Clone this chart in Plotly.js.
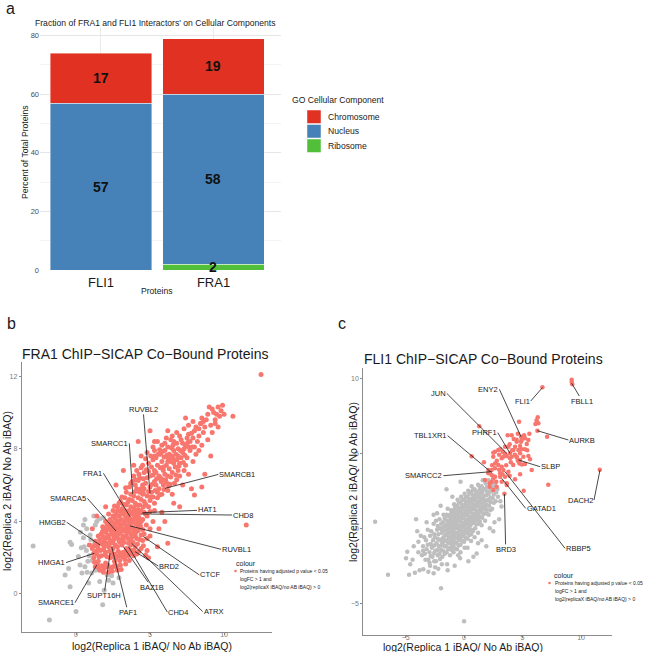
<!DOCTYPE html>
<html>
<head>
<meta charset="utf-8">
<script src="https://cdn.plot.ly/plotly-3.0.1.min.js"></script>
<style>body{margin:0;background:#fff}</style>
</head>
<body>
<div id="plotArea" style="width:650px;height:652px"></div>
<script>
// ---- panel a : GO cellular component fractions
var proteins = ["FLI1", "FRA1"];
var components = ["Chromosome", "Nucleus", "Ribosome"];
var ribosome = [0, 2];
var nucleus = [57, 58];
var chromosome = [17, 19];

// ---- panel b : FRA1 ChIP-SICAP (log2 rep1, log2 rep2)
var fraSig = [
 [1.3,1.5],[1.6,1.3],[1.9,1.4],[2.2,1.2],[2.5,1.5],[2.8,1.3],[1.5,1.8],[2.0,1.7],[2.6,1.8],[3.0,1.6],[3.3,1.9],[1.2,2.0],
 [1.4,2.2],[1.7,2.1],[2.0,2.3],[2.3,2.0],[2.6,2.2],[2.9,2.1],[3.2,2.3],[3.5,2.1],[3.8,2.4],[4.1,2.2],[1.1,2.5],[1.5,2.5],
 [1.9,2.6],[2.2,2.6],[2.5,2.5],[2.8,2.6],[3.1,2.7],[3.4,2.5],[3.7,2.7],[4.0,2.6],[4.4,2.5],[4.8,2.4],
 [1.3,2.9],[1.6,3.0],[1.9,2.9],[2.2,3.1],[2.5,2.9],[2.8,3.1],[3.1,3.0],[3.4,3.2],[3.7,3.0],[4.0,3.2],[4.3,3.0],[4.6,3.3],
 [1.7,3.3],[2.0,3.4],[2.4,3.3],[2.7,3.5],[3.0,3.4],[3.3,3.6],[3.6,3.4],[3.9,3.6],[4.2,3.5],[5.0,3.2],
 [1.8,3.7],[2.1,3.8],[2.4,3.7],[2.7,3.9],[3.0,3.8],[3.3,4.0],[3.6,3.9],[3.9,4.1],[4.2,3.9],[4.5,4.1],[2.3,4.1],[2.6,4.2],
 [2.9,4.3],[3.2,4.4],[3.5,4.3],[3.8,4.5],[4.1,4.4],[4.4,4.6],[4.8,4.3],[5.2,4.0],
 [2.5,4.6],[2.8,4.8],[3.1,4.7],[3.4,4.9],[3.7,4.8],[4.0,5.0],[4.3,4.9],[4.6,5.1],[4.9,4.8],[5.3,5.0],[3.0,5.1],[3.3,5.3],
 [3.6,5.2],[3.9,5.4],[4.2,5.3],[4.5,5.5],[4.8,5.4],[5.1,5.6],[5.5,5.3],
 [1.45,1.65],[1.75,1.55],[2.05,1.5],[2.35,1.45],[2.65,1.6],[2.95,1.85],[1.35,2.35],[1.65,2.4],[1.95,2.15],[2.25,2.35],
 [2.55,2.05],[2.85,2.35],[3.15,2.05],[3.45,2.35],[3.65,2.2],[3.95,2.35],[1.45,2.7],[1.75,2.75],[2.05,2.8],[2.35,2.8],
 [2.65,2.7],[2.95,2.85],[3.25,2.85],[3.55,2.8],[3.85,2.85],[4.15,2.75],[1.85,3.15],[2.15,3.25],[2.55,3.15],[2.85,3.3],
 [3.15,3.2],[3.45,3.4],[3.75,3.25],[4.05,3.4],[4.4,3.25],[1.95,3.55],[2.25,3.55],[2.55,3.55],[2.85,3.65],[3.15,3.6],
 [3.45,3.75],[3.75,3.7],[4.05,3.85],[4.35,3.75],[2.45,3.95],[2.75,4.05],[3.05,4.1],[3.35,4.2],[3.65,4.15],[3.95,4.3],
 [4.25,4.2],[2.7,4.4],[3.0,4.55],[3.3,4.6],[3.6,4.6],[3.9,4.75],[4.2,4.65],[4.55,4.8],
 [1.25,1.75],[1.55,1.45],[1.85,1.2],[2.15,1.6],[2.45,1.25],[2.75,1.5],[3.05,1.35],[3.35,1.65],[3.6,1.85],[1.2,2.25],
 [1.55,2.05],[1.85,2.45],[2.1,2.05],[2.4,2.25],[2.7,2.0],[3.0,2.25],[3.3,2.15],[3.6,2.45],[3.9,2.1],[4.25,2.35],
 [4.55,2.65],[4.7,2.15],[1.25,2.65],[1.6,2.8],[1.95,3.05],[2.3,2.95],[2.6,3.05],[2.9,2.95],[3.2,3.1],[3.5,3.05],
 [3.8,3.15],[4.1,3.05],[4.5,2.95],[4.8,3.05],[1.5,3.2],[1.8,3.45],[2.1,3.6],[2.4,3.45],[2.7,3.3],[3.0,3.6],
 [3.3,3.45],[3.6,3.6],[3.9,3.45],[4.2,3.7],[4.5,3.55],[4.75,3.8],[5.0,3.6],[2.0,4.0],[2.3,3.85],[2.6,3.75],
 [2.9,3.95],[3.2,3.85],[3.5,4.1],[3.8,3.95],[4.1,4.1],[4.4,4.0],[4.7,4.4],[5.0,4.55],[2.2,4.4],[2.5,4.3],
 [2.8,4.6],[3.1,4.4],[3.4,4.5],[3.7,4.4],[4.0,4.6],[4.3,4.45],[4.6,4.5],[2.6,4.85],[2.9,5.0],[3.2,4.95],
 [3.5,5.05],[3.8,5.15],[4.1,4.9],[4.4,5.2],[4.7,4.95],[5.0,5.15],[5.3,4.6],[3.1,5.35],[3.4,5.6],[3.7,5.5],
 [4.0,5.65],[4.3,5.6],[4.6,5.8],[4.9,5.65],[5.2,5.35],[5.5,5.6],[5.8,5.5],
 [3.6,5.9],[4.0,6.0],[4.4,5.8],[4.7,6.1],[5.0,5.9],[5.3,6.2],[5.6,5.8],[5.9,6.0],[6.2,5.7],[6.5,5.5],
 [3.9,6.5],[4.3,6.4],[4.6,6.7],[5.0,6.5],[5.3,6.8],[5.6,6.5],[5.9,6.8],[6.2,6.5],[6.5,6.7],[6.8,6.3],[7.2,6.0],
 [4.5,7.1],[4.9,7.2],[5.2,7.4],[5.5,7.1],[5.8,7.3],[6.1,7.1],[6.4,7.3],[6.7,7.0],[7.0,7.2],[7.3,6.8],[7.6,6.6],
 [4.8,7.8],[5.3,7.9],[5.7,7.7],[6.0,7.9],[6.3,7.7],[6.6,7.9],[6.9,7.6],[7.2,7.8],[7.5,7.5],[7.9,7.3],
 [5.5,8.4],[6.0,8.3],[6.4,8.5],[6.8,8.3],[7.1,8.5],[7.4,8.2],[7.7,8.4],[8.0,8.1],[8.3,7.9],
 [6.2,9.0],[6.8,8.9],[7.3,9.1],[7.6,8.8],[8.0,9.0],[8.3,8.7],[8.6,8.9],[8.9,8.5],
 [7.9,9.5],[8.4,9.4],[8.8,9.6],[9.1,9.3],[9.4,9.6],[9.6,9.2],[9.3,10.0],[9.6,10.3],[9.8,10.1],[9.0,10.3],[9.7,9.8],[10.0,9.9],
 [3.8,6.2],[4.2,6.25],[4.5,6.0],[4.8,6.4],[5.15,6.05],[5.45,6.35],[5.75,6.2],[6.05,6.3],[6.35,6.05],[6.65,6.1],
 [7.0,6.5],[4.1,6.8],[4.4,6.95],[4.75,6.85],[5.1,7.0],[5.4,6.7],[5.7,6.95],[6.0,6.6],[6.3,6.9],[6.6,7.2],
 [6.9,6.8],[7.4,7.1],[4.7,7.45],[5.05,7.6],[5.4,7.5],[5.65,7.95],[5.95,7.55],[6.25,7.45],[6.5,7.6],[6.8,7.4],
 [7.1,7.5],[7.7,7.9],[8.1,7.7],[5.2,8.1],[5.8,8.2],[6.2,8.1],[6.55,8.2],[6.9,8.0],[7.3,8.0],[7.6,8.1],
 [7.9,8.6],[8.2,8.4],[8.5,8.2],[6.5,8.7],[7.0,8.7],[7.5,8.6],[8.1,9.2],[8.7,9.2],[9.2,8.9],[8.5,9.7],
 [8.9,9.9],[9.2,10.2],[9.5,9.9],[9.9,10.4],[9.4,9.4],
 [5.4,6.0],[5.7,6.4],[6.1,6.15],[6.4,6.45],[6.75,6.55],[5.2,6.55],[4.9,6.75],[4.55,6.35],[4.25,6.6],[4.0,6.3],
 [5.9,7.0],[6.2,7.3],[6.55,7.45],[6.95,7.05],[7.25,7.25],[5.55,7.7],[5.85,7.85],[6.15,7.65],[6.45,8.05],[6.75,7.7],
 [7.05,7.9],[7.35,7.65],[7.55,8.35],[7.85,8.1],[6.1,8.6],[6.6,8.4],[7.2,8.3],[7.8,8.85],[8.3,9.1],[8.6,9.5],
 [5.05,5.35],[5.35,5.7],[5.65,5.45],[5.95,5.75],[6.25,5.95],[5.85,6.3],[3.35,5.85],[3.7,6.1],[4.1,5.8],[4.55,5.55],
 [12.5,12.1],[10.6,9.8],[7.4,9.7],[5.3,8.4],[11.5,3.8],[3.2,6.8],[6.6,5.0],[7.8,5.8],[8.7,6.6],[9.1,7.6],[3.9,7.1],[2.7,6.0],
 [4.4,7.6],[5.8,4.5],[6.0,4.0],[7.0,4.8],[1.1,3.6],[0.9,2.7],[1.4,4.3],[2.0,4.8],[5.6,3.6],[6.2,2.8],[4.9,2.0],[5.5,2.6],
 [8.5,5.9],[8.0,5.45],[7.6,9.3],[8.45,9.4],[5.3,7.6],[4.2,8.4],[5.0,9.0]
];
var fraNs = [
 [-2.9,2.64],[-0.4,2.85],[-0.3,2.72],[0.5,3.1],[0.72,3.6],[1.4,4.0],[1.6,4.15],[1.85,4.2],[0.16,2.06],[0.27,1.6],
 [0.6,1.5],[-0.74,1.05],[-0.4,0.4],[1.06,1.15],[1.3,1.3],[1.6,0.68],[1.8,-0.6],[0.0,-0.97],[-1.8,-1.43],[2.5,0.6],
 [2.4,1.0],[0.7,2.4],[0.9,2.1],[0.95,3.25],[1.15,2.7],[0.6,4.1],[1.2,4.3],[0.4,1.15],[0.85,0.6],[2.1,1.05],
 [0.8,1.8],[1.0,3.0],[0.3,3.4],[0.55,2.6],[0.75,1.2],[2.2,0.75],[-0.5,1.4],[1.3,3.8],[0.5,3.8],[1.9,0.2],
 [2.9,0.9],[1.1,1.85],[0.35,2.55]
];

// ---- panel c : FLI1 ChIP-SICAP
var fliSig = [
 [9.2,9.9],[9.2,9.75],[9.25,9.6],[6.7,9.4],[6.3,7.4],[6.2,7.2],[6.35,7.0],[6.1,6.95],[6.27,6.5],[7.1,6.1],[11.6,3.9],
 [7.2,2.9],[5.1,2.5],[3.45,2.3],[1.3,6.8],[0.65,4.8],[1.7,4.4],[4.7,7.1],
 [4.93,5.89],[5.21,6.0],[5.5,5.89],[5.36,5.62],[4.79,5.49],[4.5,5.78],[4.36,5.44],[4.22,5.22],[4.64,5.22],[4.93,5.27],
 [3.79,5.44],[3.93,5.0],[3.65,4.82],[4.07,4.78],[4.5,4.73],[4.79,4.56],[5.07,4.78],[5.21,4.29],[5.64,4.6],[5.78,3.89],
 [2.65,5.11],[2.93,5.22],[2.5,4.78],[3.22,4.67],[2.93,4.22],[2.65,4.0],[3.36,3.89],[3.08,3.67],[3.5,3.44],[2.65,3.44],
 [2.36,3.89],[2.08,3.67],[3.22,3.11],[3.65,2.89],[2.79,2.78],[1.79,3.22],
 [3.73,6.2],[4.07,6.2],[4.5,5.9],[5.13,6.2],[5.58,6.3],[4.87,5.78],[5.2,5.27],[5.5,4.82],[4.73,4.33],[4.79,3.6],
 [4.36,3.27],[3.65,3.0],[3.08,3.44],[2.5,3.33],[2.2,3.0],[2.08,3.89],[2.65,4.33],[3.36,4.78],[3.08,5.27],[2.5,5.04],
 [3.5,5.44],[3.93,4.67],[4.2,4.22],[4.5,4.78],[4.79,5.0],[3.79,3.78],[3.22,4.11],[2.2,2.78],[2.5,2.56],[2.36,3.1],
 [4.87,6.11],
 [3.0,4.9],[3.5,4.95],[3.9,5.6],[4.25,5.95],[4.6,6.3],[4.0,4.4],[4.35,4.9],[4.6,4.5],[3.3,5.1],[2.8,4.5],
 [2.4,4.2],[3.0,3.9],[3.6,4.2],[3.9,3.5],[2.75,3.1],[3.3,3.6],[4.95,4.25],[5.4,5.2],[4.1,5.2],[2.35,3.55]
];
var fliNs = [
 [-7.6,0.44],[-6.5,-3.1],[-4.1,0.6],[-4.0,-0.2],[-3.1,-0.1],[-4.85,-1.56],[-4.96,-2.0],[-4.6,-2.4],[-4.7,-3.1],[-4.2,-2.96],
 [-3.8,-2.8],[-3.48,-2.73],[-3.05,-2.9],[-2.9,-2.5],[-2.47,-2.6],[-2.2,-2.7],[-1.9,-2.4],[-1.45,-2.4],[-1.4,-2.8],[-1.97,-4.0],
 [0.0,-6.2],[-3.9,-0.9],[-3.5,-1.2],[-3.6,-1.8],[-3.3,-2.1],[-3.9,-1.6],[-0.34,-2.0],[0.37,-2.2],[0.8,-1.9],[1.08,-1.67],
 [1.5,-0.8],[1.94,1.0],[2.6,0.4],[3.2,1.45],[3.0,0.6],[2.9,2.1],[3.1,1.8],[-0.3,3.1],[-1.5,2.6],[-1.0,2.1],
 [-2.3,1.0],[-3.2,0.4],[2.5,-0.2],[-2.0,1.5],[-3.7,-0.5],[-3.4,-0.6],[-4.3,-1.2],[-4.4,-2.1],[-2.6,-3.0],[1.9,-1.2],
 [2.2,0.0],[-0.8,-2.5],[-2.6,0.9],
 [-3.05,-2.1],[-2.95,-1.6],[-3.1,-1.1],[-2.9,-0.5],[-3.2,-1.4],
 [-2.7,-1.9],[-2.75,-1.3],[-2.65,-0.8],[-2.8,-0.2],[-2.6,0.3],[-2.55,-2.2],
 [-2.4,-2.2],[-2.45,-1.5],[-2.35,-1.0],[-2.5,-0.6],[-2.3,-0.1],[-2.4,0.5],[-2.25,-1.8],
 [-2.1,-1.7],[-2.15,-1.2],[-2.05,-0.8],[-2.2,-0.4],[-2.0,0.0],[-2.1,0.6],[-2.05,-2.05],[-1.95,-1.45],
 [-1.8,-1.5],[-1.85,-1.0],[-1.75,-0.6],[-1.9,-0.3],[-1.7,0.1],[-1.8,0.4],[-1.75,0.9],[-1.85,-1.9],[-1.65,-1.2],[-1.6,-0.45],
 [-1.5,-1.6],[-1.55,-1.2],[-1.45,-0.8],[-1.5,-0.4],[-1.4,-0.1],[-1.55,0.2],[-1.45,0.5],[-1.5,0.9],[-1.4,1.3],[-1.35,-1.4],
 [-1.3,-0.6],[-1.35,0.05],
 [-1.2,-1.3],[-1.25,-0.9],[-1.15,-0.6],[-1.2,-0.3],[-1.1,0.0],[-1.25,0.3],[-1.15,0.6],[-1.2,0.9],[-1.1,1.2],[-1.2,-1.8],
 [-1.05,-1.05],[-1.0,-0.45],[-1.05,0.45],
 [-0.9,-1.2],[-0.95,-0.8],[-0.85,-0.5],[-0.9,-0.2],[-0.8,0.1],[-0.95,0.4],[-0.85,0.7],[-0.9,1.0],[-0.8,1.3],[-0.85,1.6],
 [-0.75,-0.95],[-0.7,-0.35],[-0.7,0.25],[-0.72,0.85],
 [-0.6,-1.4],[-0.65,-1.0],[-0.55,-0.6],[-0.6,-0.3],[-0.5,0.0],[-0.65,0.3],[-0.55,0.6],[-0.6,0.9],[-0.5,1.2],[-0.6,1.5],
 [-0.55,1.9],[-0.45,-0.8],[-0.4,-0.15],[-0.42,0.45],[-0.4,1.05],
 [-0.3,-1.1],[-0.35,-0.7],[-0.25,-0.4],[-0.3,-0.1],[-0.2,0.2],[-0.35,0.5],[-0.25,0.8],[-0.3,1.1],[-0.2,1.4],[-0.3,1.7],
 [-0.25,2.1],[-0.3,-1.6],[-0.15,-0.55],[-0.12,0.05],[-0.1,0.65],[-0.12,1.25],
 [0.0,-0.9],[-0.05,-0.5],[0.05,-0.2],[0.0,0.1],[0.1,0.4],[-0.05,0.7],[0.05,1.0],[0.0,1.3],[0.1,1.6],[0.0,1.9],
 [0.05,2.3],[0.15,-0.65],[0.18,-0.05],[0.2,0.55],[0.2,1.15],[0.18,1.75],
 [0.3,-0.7],[0.25,-0.3],[0.35,0.0],[0.3,0.3],[0.4,0.6],[0.25,0.9],[0.35,1.2],[0.3,1.5],[0.4,1.8],[0.3,2.1],
 [0.35,2.5],[0.3,-1.3],[0.45,-0.15],[0.48,0.45],[0.5,1.05],[0.48,1.65],
 [0.6,-0.4],[0.65,-0.1],[0.55,0.2],[0.6,0.5],[0.7,0.8],[0.55,1.1],[0.65,1.4],[0.6,1.7],[0.7,2.0],[0.6,2.4],
 [0.65,2.8],[0.75,0.35],[0.78,0.95],[0.8,1.55],[0.78,2.2],
 [0.9,-0.6],[0.95,0.0],[0.85,0.4],[0.9,0.7],[1.0,1.0],[0.85,1.3],[0.95,1.6],[0.9,1.9],[1.0,2.2],[0.9,2.6],
 [1.05,0.55],[1.08,1.15],[1.1,1.75],[1.05,2.4],
 [1.2,-0.3],[1.25,0.3],[1.15,0.6],[1.2,0.9],[1.3,1.2],[1.15,1.5],[1.25,1.8],[1.2,2.1],[1.3,2.5],[1.2,2.9],
 [1.2,-1.0],[1.35,0.75],[1.38,1.35],[1.4,1.95],
 [1.5,0.2],[1.55,0.7],[1.45,1.1],[1.5,1.4],[1.6,1.7],[1.45,2.0],[1.55,2.4],[1.5,2.8],[1.6,3.2],[1.65,1.25],[1.68,2.15],
 [1.8,0.5],[1.85,1.0],[1.75,1.4],[1.8,1.8],[1.9,2.2],[1.75,2.6],[1.85,3.0],[1.95,1.55],[1.98,2.45],
 [2.1,0.9],[2.15,1.5],[2.05,1.9],[2.1,2.3],[2.2,2.7],[2.1,3.2],[2.25,2.05],
 [2.4,1.3],[2.45,2.0],[2.35,2.5],[2.4,3.0],[2.5,3.5],[2.55,1.7],
 [2.7,1.8],[2.75,2.4],[2.65,2.9],[2.85,2.6],
 [-2.85,-1.85],[-2.85,-1.05],[-2.55,-1.65],[-2.55,-1.15],[-2.55,-0.4],[-2.25,-1.45],[-2.25,-0.7],[-2.25,0.15],[-1.95,-1.15],[-1.95,-0.75],
 [-1.95,-0.05],[-1.95,0.3],[-1.65,-1.7],[-1.65,-0.85],[-1.65,-0.15],[-1.65,0.65],[-1.35,-1.0],[-1.35,-0.3],[-1.35,0.35],[-1.35,0.8],
 [-1.05,-1.45],[-1.05,-0.75],[-1.05,-0.15],[-1.05,0.2],[-1.05,0.8],[-1.05,1.05],[-0.75,-1.35],[-0.75,-0.65],[-0.75,0.0],[-0.75,0.55],
 [-0.75,1.15],[-0.75,1.45],[-0.45,-1.15],[-0.45,-0.45],[-0.45,0.15],[-0.45,0.75],[-0.45,1.35],[-0.45,1.7],[-0.15,-0.85],[-0.15,-0.25],
 [-0.15,0.35],[-0.15,0.95],[-0.15,1.55],[-0.15,1.9],[0.15,-0.35],[0.15,0.25],[0.15,0.85],[0.15,1.45],[0.15,2.05],[0.45,-0.45],
 [0.45,0.15],[0.45,0.75],[0.45,1.35],[0.45,1.95],[0.45,2.3],[0.75,-0.2],[0.75,0.6],[0.75,1.25],[0.75,1.85],[0.75,2.55],
 [1.05,0.25],[1.05,0.85],[1.05,1.45],[1.05,2.05],[1.35,0.45],[1.35,1.05],[1.35,1.65],[1.35,2.25],[1.35,2.7],[1.65,0.95],
 [1.65,1.55],[1.65,1.95],[1.65,2.6],[1.95,1.25],[1.95,1.85],[1.95,2.75],[2.25,1.2],[2.25,1.75],[2.25,2.45],[2.55,2.25],
 [2.55,2.75],[-3.35,-1.7],[-3.25,-0.8],[-2.95,-2.3],[-3.5,-1.5],[0.05,-1.3],[0.6,-0.85],[-0.5,-1.8],[-0.9,-1.6]
];

// labelled proteins: point (x,y), label anchor (lx,ly), side of label the line leaves from
var fraLabels = [
 {t:"RUVBL2", x:5.0, y:5.55, lx:4.53, ly:10.17, a:"center"},
 {t:"SMARCC1", x:3.83, y:5.51, lx:3.6, ly:8.3, a:"right"},
 {t:"FRA1", x:3.65, y:4.26, lx:1.85, ly:6.65, a:"right"},
 {t:"SMARCA5", x:2.7, y:3.47, lx:0.77, ly:5.27, a:"right"},
 {t:"HMGB2", x:1.62, y:2.7, lx:-0.63, ly:3.95, a:"right"},
 {t:"HMGA1", x:1.24, y:2.24, lx:-0.68, ly:1.73, a:"right"},
 {t:"SMARCE1", x:1.4, y:1.6, lx:-0.07, ly:-0.48, a:"right"},
 {t:"SUPT16H", x:2.3, y:2.24, lx:1.89, ly:-0.09, a:"center"},
 {t:"PAF1", x:2.41, y:2.61, lx:3.51, ly:-1.01, a:"center"},
 {t:"BAZ1B", x:3.2, y:2.6, lx:5.11, ly:0.37, a:"center"},
 {t:"CHD4", x:3.54, y:2.61, lx:6.17, ly:-1.0, a:"left"},
 {t:"ATRX", x:3.76, y:2.79, lx:8.56, ly:-0.97, a:"left"},
 {t:"CTCF", x:4.55, y:3.16, lx:8.33, ly:1.05, a:"left"},
 {t:"BRD2", x:3.99, y:2.33, lx:5.56, ly:1.54, a:"left"},
 {t:"RUVBL1", x:3.65, y:3.75, lx:9.8, ly:2.46, a:"left"},
 {t:"HAT1", x:4.5, y:4.48, lx:8.85, ly:4.63, a:"center"},
 {t:"CHD8", x:4.44, y:4.41, lx:10.54, ly:4.35, a:"left"},
 {t:"SMARCB1", x:6.01, y:5.82, lx:9.62, ly:6.59, a:"left"}
];
var fliLabels = [
 {t:"JUN", x:3.65, y:5.0, lx:-1.48, ly:9.0, a:"right"},
 {t:"ENY2", x:4.87, y:6.11, lx:3.02, ly:9.27, a:"right"},
 {t:"FLI1", x:6.7, y:9.38, lx:5.7, ly:8.49, a:"right"},
 {t:"FBLL1", x:9.2, y:9.67, lx:10.11, ly:8.49, a:"center"},
 {t:"PHRF1", x:3.93, y:5.0, lx:2.88, ly:6.38, a:"right"},
 {t:"AURKB", x:6.27, y:6.51, lx:8.92, ly:5.89, a:"left"},
 {t:"TBL1XR1", x:2.36, y:3.71, lx:-1.4, ly:6.18, a:"right"},
 {t:"SLBP", x:4.64, y:4.56, lx:6.5, ly:4.11, a:"left"},
 {t:"SMARCC2", x:2.36, y:3.78, lx:-1.77, ly:3.51, a:"right"},
 {t:"DACH2", x:11.62, y:3.89, lx:11.11, ly:1.89, a:"right"},
 {t:"GATAD1", x:3.22, y:3.33, lx:5.27, ly:1.33, a:"left"},
 {t:"BRD3", x:3.45, y:2.29, lx:3.56, ly:-1.4, a:"center"},
 {t:"RBBP5", x:3.5, y:3.78, lx:8.63, ly:-1.33, a:"left"}
];

var W = 650, H = 652;
function px(x){ return x / W; }
function py(y){ return 1 - y / H; }

var sigColor = "#F8766D", nsColor = "#BEBEBE";
var compColor = {Chromosome:"#E03122", Nucleus:"#4682B8", Ribosome:"#52BF3A"};
var font = "Liberation Sans, Arial, sans-serif";

function bar(name, vals){
  return {type:"bar", x:proteins, y:vals, name:name, showlegend:false,
    marker:{color:compColor[name], line:{color:"rgba(255,255,255,0.7)", width:0.6}},
    xaxis:"x", yaxis:"y", hoverinfo:"skip"};
}
function pts(list, color, xa, ya, size){
  return {type:"scatter", mode:"markers", x:list.map(function(p){return p[0];}), y:list.map(function(p){return p[1];}),
    marker:{color:color, size:size, line:{width:0}}, xaxis:xa, yaxis:ya, showlegend:false, hoverinfo:"skip"};
}

var stack = [["Ribosome", ribosome], ["Nucleus", nucleus], ["Chromosome", chromosome]];
var data = stack.map(function(s){ return bar(s[0], s[1]); }).concat([
  pts(fraNs, nsColor, "x2", "y2", 5),
  pts(fraSig, sigColor, "x2", "y2", 5),
  pts(fliNs, nsColor, "x3", "y3", 4.5),
  pts(fliSig, sigColor, "x3", "y3", 4.5)
]);

// segment value labels, placed at the middle of each stacked segment
var barNotes = [];
proteins.forEach(function(p, i){
  var base = 0;
  stack.forEach(function(s){
    var v = s[1][i];
    if (v > 0) barNotes.push({x:p, y:base + v / 2, xref:"x", yref:"y", text:"<b>" + v + "</b>", showarrow:false,
      borderpad:0, font:{size:14, color:"#111"}});
    base += v;
  });
});

function labelNotes(list, xr, yr){
  return list.map(function(l){
    return {x:l.x, y:l.y, xref:xr, yref:yr, ax:l.lx, ay:l.ly, axref:xr, ayref:yr, text:l.t,
      showarrow:true, arrowhead:0, arrowwidth:0.8, arrowcolor:"#1a1a1a", standoff:0,
      xanchor:l.a, yanchor:"middle", borderpad:0, font:{size:7.5, color:"#1a1a1a"}};
  });
}
function txt(t, x, y, size, opt){
  var a = {text:t, x:px(x), y:py(y), xref:"paper", yref:"paper", showarrow:false,
    xanchor:"left", yanchor:"middle", font:{size:size, color:"#1a1a1a"}};
  for (var k in opt) a[k] = opt[k];
  return a;
}

var notes = [
  txt("a", 4, 8, 16),
  txt("b", 5, 323, 16),
  txt("c", 336, 323, 16),
  txt("Fraction of FRA1 and FLI1 Interactors' on Cellular Components", 33, 23, 8.6),
  txt("Percent of Total Proteins", 25, 153, 8.6, {xanchor:"center", textangle:-90}),
  txt("Proteins", 157, 291, 8.6, {xanchor:"center"}),
  txt("GO Cellular Component", 290, 100, 8.6),
  txt("FRA1 ChIP\u2212SICAP Co\u2212Bound Proteins", 20, 354, 14),
  txt("FLI1 ChIP\u2212SICAP Co\u2212Bound Proteins", 362, 359, 14),
  txt("log2(Replica 1 iBAQ/ No Ab iBAQ)", 152, 646, 10.5, {xanchor:"center"}),
  txt("log2(Replica 2 iBAQ/ No Ab iBAQ)", 7, 491, 10.5, {xanchor:"center", textangle:-90}),
  txt("log2(Replica 1 iBAQ/ No Ab iBAQ)", 463, 647, 10.5, {xanchor:"center"}),
  txt("log2(Replica 2 iBAQ/ No Ab iBAQ)", 353, 482, 10.5, {xanchor:"center", textangle:-90}),
  txt("colour", 234, 563, 7),
  txt("Proteins having adjusted p value < 0.05", 237.5, 571, 5),
  txt("logFC > 1 and", 237.5, 579, 5),
  txt("log2(replicaX iBAQ/no AB iBAQ) > 0", 237.5, 587, 5),
  txt("colour", 551.5, 575, 7),
  txt("Proteins having adjusted p value < 0.05", 552.5, 583, 5),
  txt("logFC > 1 and", 552.5, 591, 5),
  txt("log2(replicaX iBAQ/no AB iBAQ) > 0", 552.5, 599, 5)
].concat(barNotes, labelNotes(fraLabels, "x2", "y2"), labelNotes(fliLabels, "x3", "y3"));

// legend of panel a: key squares and names
var shapes = [];
components.forEach(function(c, i){
  var top = 110 + i * 14.5;
  shapes.push({type:"rect", xref:"paper", yref:"paper", x0:px(307), x1:px(321), y0:py(top + 13.5), y1:py(top),
    fillcolor:compColor[c], line:{color:"rgba(255,255,255,0.8)", width:0.6}});
  notes.push(txt(c, 326, top + 6.8, 8.6));
});
function dot(x, y){
  return {type:"circle", xref:"paper", yref:"paper", x0:px(x-1.3), x1:px(x+1.3), y0:py(y+1.3), y1:py(y-1.3),
    fillcolor:sigColor, line:{width:0}};
}
shapes.push(dot(235.5, 571), dot(549.5, 583));

var scatAxis = {showline:true, linecolor:"#8c8c8c", linewidth:1, ticks:"outside", ticklen:2, tickcolor:"#8c8c8c",
  showgrid:false, zeroline:false, tickfont:{size:7, color:"#7a7a7a"}};
function copy(o, extra){ var r = {}; for (var k in o) r[k] = o[k]; for (var k2 in extra) r[k2] = extra[k2]; return r; }

var layout = {
  width:W, height:H, margin:{l:0, r:0, t:0, b:0}, paper_bgcolor:"#fff", plot_bgcolor:"#fff",
  font:{family:font, color:"#1a1a1a"}, showlegend:false,
  barmode:"stack", bargap:0.1,
  xaxis:{domain:[px(40), px(281)], range:[-0.542, 1.6], showgrid:true, gridcolor:"#ebebeb", zeroline:false,
    ticks:"", ticklabelstandoff:3, tickfont:{size:13, color:"#1a1a1a"}, anchor:"y"},
  yaxis:{domain:[py(270), py(26.9)], range:[0, 83], tickvals:[0,20,40,60,80], gridcolor:"#e6e6e6", zeroline:false,
    minor:{dtick:10, showgrid:true, gridcolor:"#f3f3f3"}, tickfont:{size:7.5, color:"#4d4d4d"}, ticks:"", anchor:"x"},
  xaxis2:copy(scatAxis, {domain:[px(21.7), px(272)], range:[-3.67, 13.24], tickvals:[0,5,10], anchor:"y2", ticklabelstandoff:-6}),
  yaxis2:copy(scatAxis, {domain:[py(631.7), py(361.7)], range:[-2.08, 12.8], tickvals:[0,4,8,12], anchor:"x2"}),
  xaxis3:copy(scatAxis, {domain:[px(363.3), px(611.7)], range:[-8.61, 12.62], tickvals:[-5,0,5,10], anchor:"y3", ticklabelstandoff:-6}),
  yaxis3:copy(scatAxis, {domain:[py(635), py(368.3)], range:[-7.11, 10.67], tickvals:[-5,0,5,10], anchor:"x3"}),
  annotations:notes,
  shapes:shapes,
  hovermode:false
};

Plotly.newPlot("plotArea", data, layout, {staticPlot:true});
</script>
</body>
</html>
